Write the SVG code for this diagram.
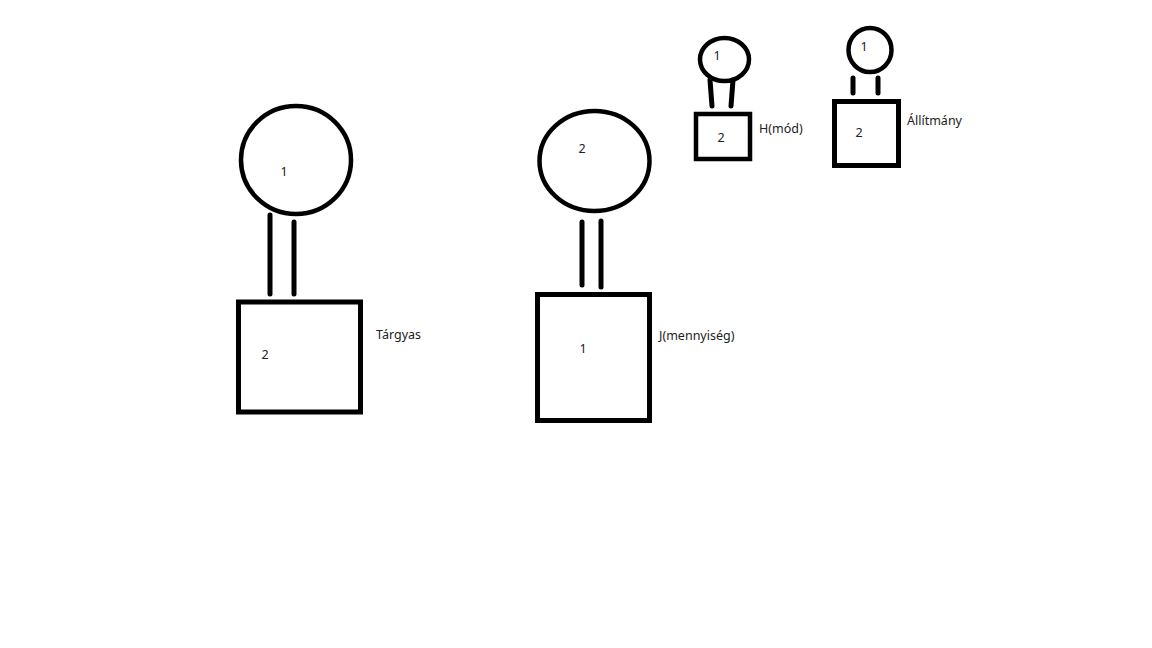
<svg xmlns="http://www.w3.org/2000/svg" width="1152" height="648" viewBox="0 0 1152 648">
<style>
.shape{fill:none;stroke:#000;stroke-width:4.5}
.bar{stroke:#000;stroke-width:5;stroke-linecap:round;fill:none}
text{font-family:"Noto Sans","Open Sans",sans-serif;font-size:12.5px;fill:#222}
.c{text-anchor:middle;dominant-baseline:central}
.l{dominant-baseline:central}
</style>
<rect width="1152" height="648" fill="#fff"/>
<g id="connectors">
<line class="bar" x1="270" y1="215" x2="270" y2="294"/>
<line class="bar" x1="294" y1="222" x2="294" y2="294"/>
<line class="bar" x1="582" y1="222" x2="582" y2="285"/>
<line class="bar" x1="601" y1="221" x2="601" y2="287"/>
<line class="bar" x1="710" y1="80" x2="712" y2="106"/>
<line class="bar" x1="733" y1="80" x2="731" y2="106"/>
<line class="bar" x1="853" y1="78" x2="853" y2="93"/>
<line class="bar" x1="878" y1="78" x2="878" y2="93"/>
</g>
<g id="node-targyas-circle">
<ellipse class="shape" cx="296" cy="160" rx="55" ry="54"/>
<text class="c" x="284" y="171">1</text>
</g>
<g id="node-targyas-rect">
<rect class="shape" x="238.5" y="302" width="122" height="110" style="stroke-width:5"/>
<text class="c" x="265" y="354">2</text>
<text class="l" x="376" y="334">Tárgyas</text>
</g>
<g id="node-j-circle">
<ellipse class="shape" cx="594.5" cy="161" rx="55" ry="50"/>
<text class="c" x="582" y="148">2</text>
</g>
<g id="node-j-rect">
<rect class="shape" x="537.5" y="294.5" width="112" height="126" style="stroke-width:5"/>
<text class="c" x="583" y="348">1</text>
<text class="l" x="659" y="335">J(mennyiség)</text>
</g>
<g id="node-h-circle">
<ellipse class="shape" cx="724.5" cy="59.5" rx="24.5" ry="21.5"/>
<text class="c" x="717" y="55">1</text>
</g>
<g id="node-h-rect">
<rect class="shape" x="696" y="114" width="54" height="45" style="stroke-width:4.5"/>
<text class="c" x="721" y="137">2</text>
<text class="l" x="759" y="128">H(mód)</text>
</g>
<g id="node-a-circle">
<ellipse class="shape" cx="870" cy="50" rx="21.5" ry="22"/>
<text class="c" x="864" y="46">1</text>
</g>
<g id="node-a-rect">
<rect class="shape" x="834.5" y="101.5" width="64" height="64" style="stroke-width:5"/>
<text class="c" x="859" y="132">2</text>
<text class="l" x="907" y="120">Állítmány</text>
</g>
</svg>
